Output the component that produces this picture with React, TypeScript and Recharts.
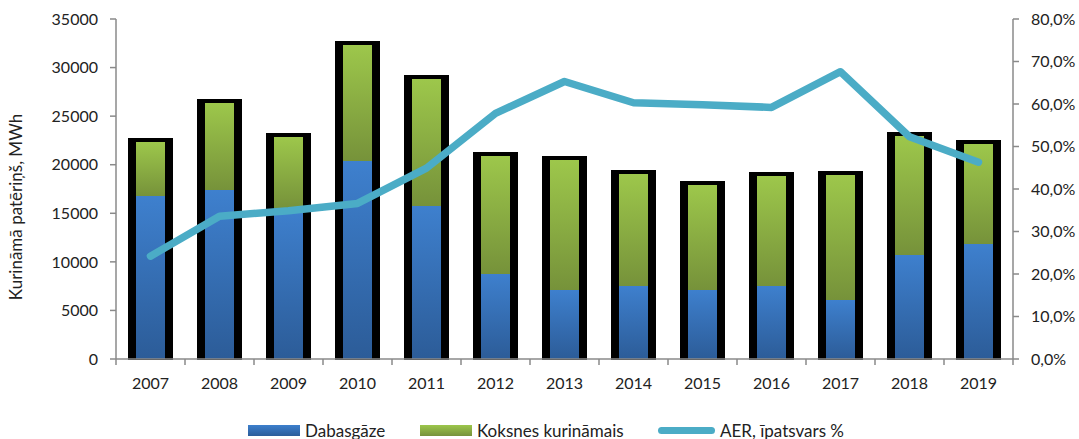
import React from 'react';
import { ComposedChart, Bar, Line, XAxis, YAxis, Legend } from 'recharts';

const years = ['2007', '2008', '2009', '2010', '2011', '2012', '2013', '2014', '2015', '2016', '2017', '2018', '2019'];
const dabasgaze = [16800, 17400, 15600, 20400, 15850, 8850, 7150, 7550, 7200, 7600, 6100, 10800, 11850];
const koksnes = [5540, 8950, 7250, 11930, 12980, 12050, 13340, 11500, 10710, 11240, 12840, 12160, 10280];
const aer = [0.242, 0.336, 0.349, 0.366, 0.449, 0.578, 0.653, 0.603, 0.598, 0.592, 0.676, 0.523, 0.463];
const leftTicks = [0, 5000, 10000, 15000, 20000, 25000, 30000, 35000];
const rightTicks = [0, 0.1, 0.2, 0.3, 0.4, 0.5, 0.6, 0.7, 0.8];

const data = years.map((y, i) => ({ year: y, gas: dabasgaze[i], wood: koksnes[i], aer: aer[i] }));

const W = 1079;
const H = 439;
const LEFT_W = 116;
const RIGHT_W = 66;
const BAND = (W - LEFT_W - RIGHT_W) / years.length;
const FONT = 'Lato, "Noto Sans", sans-serif';
const AXIS = '#8a8a8a';
const TEXT = '#222';

const makeShape = (grad: string, top: boolean) => (props: any) => {
  const { x, y, width, height } = props;
  if (height == null || height <= 0) return <g />;
  const b = 8;
  const t = top ? 4 : 0;
  return (
    <g shapeRendering="crispEdges">
      <rect x={x - b} y={y - t} width={width + 2 * b} height={height + t + (top ? 0 : 1)} fill="#000" />
      <rect x={x} y={y} width={width} height={height + (top ? 0.5 : 0)} fill={`url(#${grad})`} />
    </g>
  );
};

const XTick = (props: any) => {
  const { x, y, payload, index } = props;
  const axisY = y - 8;
  return (
    <g>
      <line x1={x - BAND / 2} x2={x - BAND / 2} y1={axisY} y2={axisY + 6} stroke={AXIS} strokeWidth={1.5} />
      {index === years.length - 1 && (
        <line x1={x + BAND / 2} x2={x + BAND / 2} y1={axisY} y2={axisY + 6} stroke={AXIS} strokeWidth={1.5} />
      )}
      <text x={x} y={axisY + 30} textAnchor="middle" fill={TEXT} fontSize={16} fontFamily={FONT}>
        {payload.value}
      </text>
    </g>
  );
};

const legendItems = [
  { label: 'Dabasgāze', kind: 'bar', grad: 'linear-gradient(#3d7fcc, #2c5d9a)', w: 172 },
  { label: 'Koksnes kurināmais', kind: 'bar', grad: 'linear-gradient(#9cc64b, #76923c)', w: 238 },
  { label: 'AER, īpatsvars %', kind: 'line', grad: '#4bacc6', w: 200 },
];

const LegendContent = () => (
  <div style={{ height: 30, display: 'flex', alignItems: 'flex-start', fontFamily: FONT, fontSize: 17, lineHeight: '11px', color: TEXT, paddingLeft: 248, paddingTop: 16, boxSizing: 'border-box' }}>
    {legendItems.map((it) => (
      <div key={it.label} style={{ display: 'flex', alignItems: 'center', gap: 5, width: it.w, height: 11, flex: 'none' }}>
        {it.kind === 'bar' ? (
          <div style={{ width: 52, height: 11, background: it.grad, flex: 'none' }} />
        ) : (
          <div style={{ width: 57, height: 7, borderRadius: 4, background: it.grad, flex: 'none' }} />
        )}
        <span style={{ whiteSpace: 'nowrap' }}>{it.label}</span>
      </div>
    ))}
  </div>
);

export default function App() {
  return (
    <div style={{ position: 'absolute', top: 0, left: 0, width: W, height: H, background: '#fff' }}>
      <ComposedChart width={W} height={H} data={data} margin={{ top: 19, right: 0, bottom: 0, left: 0 }} barCategoryGap="0%">
        <defs>
          <linearGradient id="gBlue" x1="0" y1="0" x2="0" y2="1">
            <stop offset="0%" stopColor="#3e80ce" />
            <stop offset="100%" stopColor="#2c5c98" />
          </linearGradient>
          <linearGradient id="gGreen" x1="0" y1="0" x2="0" y2="1">
            <stop offset="0%" stopColor="#9dc74b" />
            <stop offset="100%" stopColor="#76923a" />
          </linearGradient>
        </defs>
        <XAxis
          dataKey="year"
          height={50}
          axisLine={{ stroke: AXIS, strokeWidth: 1.5 }}
          tickLine={false}
          tickSize={6}
          tickMargin={2}
          tick={<XTick />}
          interval={0}
        />
        <YAxis
          yAxisId="left"
          width={LEFT_W}
          domain={[0, 35000]}
          ticks={leftTicks}
          axisLine={{ stroke: AXIS, strokeWidth: 1.5 }}
          tickLine={{ stroke: AXIS, strokeWidth: 1.5 }}
          tickSize={6}
          tickMargin={12}
          tick={{ fill: TEXT, fontSize: 16, fontFamily: FONT }}
          label={{
            content: () => (
              <text transform="translate(22,207) rotate(-90)" textAnchor="middle" fill={TEXT} fontSize={17} fontFamily={FONT}>
                Kurināmā patēriņš, MWh
              </text>
            ),
          }}
        />
        <YAxis
          yAxisId="right"
          orientation="right"
          width={RIGHT_W}
          domain={[0, 0.8]}
          ticks={rightTicks}
          axisLine={{ stroke: AXIS, strokeWidth: 1.5 }}
          tickLine={{ stroke: AXIS, strokeWidth: 1.5 }}
          tickSize={6}
          tickMargin={12}
          tick={{ fill: TEXT, fontSize: 16, fontFamily: FONT }}
          tickFormatter={(v: number) => (v * 100).toFixed(1).replace('.', ',') + '%'}
        />
        <Legend verticalAlign="bottom" content={<LegendContent />} wrapperStyle={{ bottom: 0, left: 0, width: W, height: 30 }} />
        <Bar yAxisId="left" dataKey="gas" name="Dabasgāze" stackId="s" barSize={29} shape={makeShape('gBlue', false)} isAnimationActive={false} />
        <Bar yAxisId="left" dataKey="wood" name="Koksnes kurināmais" stackId="s" barSize={29} shape={makeShape('gGreen', true)} isAnimationActive={false} />
        <Line
          yAxisId="right"
          dataKey="aer"
          name="AER, īpatsvars %"
          type="linear"
          stroke="#4bacc6"
          strokeWidth={7.5}
          strokeLinecap="round"
          strokeLinejoin="round"
          dot={false}
          activeDot={false}
          isAnimationActive={false}
        />
      </ComposedChart>
    </div>
  );
}
